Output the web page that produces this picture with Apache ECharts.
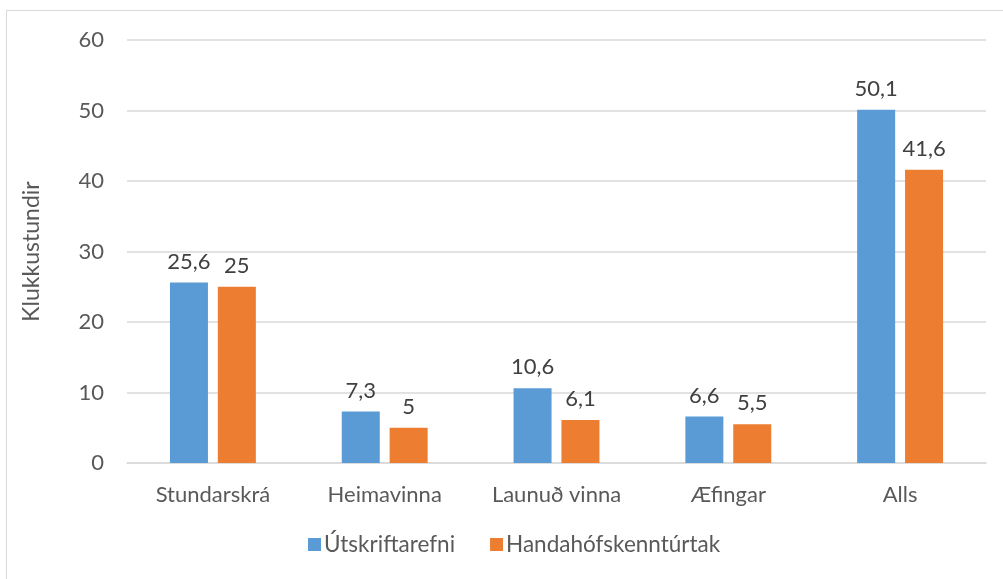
<!DOCTYPE html>
<html><head><meta charset="utf-8">
<script src="https://cdn.jsdelivr.net/npm/echarts@6/dist/echarts.min.js"></script>
<style>html,body{margin:0;padding:0;background:#fff}#c{width:1003px;height:579px;position:relative}
#b{position:absolute;left:6px;top:10px;width:1100px;height:700px;border:1px solid #d9d9d9;box-sizing:border-box}</style>
</head><body><div id="b"></div><div id="c"></div>
<script>
const categories = ['Stundarskrá', 'Heimavinna', 'Launuð vinna', 'Æfingar', 'Alls'];
const seriesNames = ['Útskriftarefni', 'Handahófskenntúrtak'];
const utskriftarefni = [25.6, 7.3, 10.6, 6.6, 50.1];
const handahof = [25, 5, 6.1, 5.5, 41.6];
const yTicks = [0, 10, 20, 30, 40, 50, 60];

const font = 'Lato, "Open Sans", sans-serif';
const fs = 22;
const chart = echarts.init(document.getElementById('c'), null, {renderer: 'canvas'});
const lbl = {show: true, position: 'top', distance: 10, color: '#404040', fontSize: fs, fontFamily: font,
  formatter: p => String(p.value).replace('.', ',')};
chart.setOption({
  animation: false,
  grid: {left: 127, right: 17, top: 40, bottom: 116, containLabel: false},
  legend: {bottom: 18, left: 303, itemWidth: 13, itemHeight: 13, itemGap: 35, icon: 'rect',
    textStyle: {color: '#595959', fontSize: 22.5, fontFamily: font, padding: [0, 0, 0, -2]}, data: seriesNames},
  xAxis: {type: 'category', data: categories,
    axisLine: {lineStyle: {color: '#d9d9d9', width: 1.5}}, axisTick: {show: false},
    axisLabel: {color: '#595959', fontSize: fs, fontFamily: font, margin: 21}},
  yAxis: {type: 'value', min: yTicks[0], max: yTicks[yTicks.length - 1], interval: 10,
    name: 'Klukkustundir', nameLocation: 'middle', nameGap: 84, nameRotate: 90,
    nameTextStyle: {color: '#595959', fontSize: 23, fontFamily: font},
    axisLine: {show: false}, axisTick: {show: false},
    axisLabel: {color: '#595959', fontSize: fs, fontFamily: font, margin: 23},
    splitLine: {lineStyle: {color: '#d9d9d9', width: 1.5}}},
  series: [
    {name: seriesNames[0], type: 'bar', data: utskriftarefni, itemStyle: {color: '#5b9bd5'},
      barGap: '26%', barCategoryGap: '50%', label: lbl},
    {name: seriesNames[1], type: 'bar', data: handahof, itemStyle: {color: '#ed7d31'}, label: lbl}
  ]
});
</script></body></html>
